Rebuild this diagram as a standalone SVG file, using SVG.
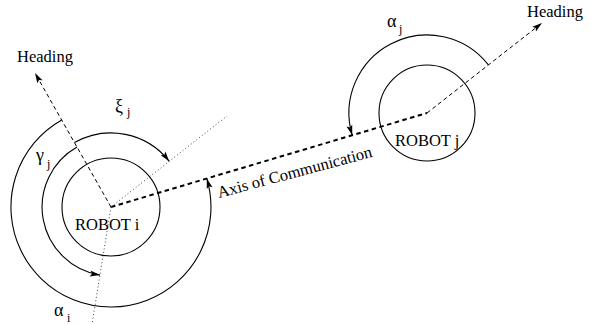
<svg xmlns="http://www.w3.org/2000/svg" width="591" height="324" viewBox="0 0 591 324">
<style>
  .lbl { font-family: "Liberation Serif", "Times New Roman", serif; font-size: 16.5px; fill: #000; }
  .grk { font-family: "Liberation Serif", "Times New Roman", serif; font-size: 18px; fill: #000; }
  .sub { font-family: "Liberation Serif", "Times New Roman", serif; font-size: 12px; fill: #000; }
  .circ { fill: none; stroke: #000; stroke-width: 1.1; }
  .arc { fill: none; stroke: #000; stroke-width: 1.1; }
  .dash { fill: none; stroke: #000; stroke-width: 1; stroke-dasharray: 4 3; }
  .axis { fill: none; stroke: #000; stroke-width: 2; stroke-dasharray: 4.5 3.5; }
  .dot { fill: none; stroke: #444; stroke-width: 1; stroke-dasharray: 1 2.5; }
</style>
<defs>
  <marker id="ah" markerUnits="userSpaceOnUse" markerWidth="12" markerHeight="8" refX="0" refY="0" viewBox="-10 -4 12 8" orient="auto" overflow="visible">
    <path d="M0,0 L-10,-3 L-8,0 L-10,3 z" fill="#000"/>
  </marker>
</defs>

<g id="connectors">
  <line class="dash" x1="111" y1="207" x2="35" y2="73" marker-end="url(#ah)"/>
  <line class="dash" x1="427" y1="113" x2="542" y2="23" marker-end="url(#ah)"/>
  <line class="axis" x1="111" y1="207" x2="427" y2="113"/>
  <line class="dot" x1="111" y1="207" x2="227" y2="116"/>
  <line class="dot" x1="111" y1="207" x2="92" y2="324"/>
  <path class="arc" d="M61.7,120 A100,100 0 1 0 206.8,178.5" marker-end="url(#ah)"/>
  <path class="arc" d="M74.5,142.6 A74,74 0 0 1 169.2,161.3" marker-end="url(#ah)"/>
  <path class="arc" d="M77,147 A69,69 0 0 0 100,275.1" marker-end="url(#ah)"/>
  <path class="arc" d="M488.4,64.9 A78,78 0 0 0 352.2,135.2" marker-end="url(#ah)"/>
</g>

<g id="robot-i">
  <circle class="circ" cx="111" cy="207" r="49"/>
  <text class="lbl" x="75" y="230">ROBOT i</text>
</g>
<g id="robot-j">
  <circle class="circ" cx="427" cy="113" r="48"/>
  <text class="lbl" x="395" y="146">ROBOT j</text>
</g>

<g id="labels">
  <text class="lbl" x="17" y="62">Heading</text>
  <text class="lbl" x="527" y="17">Heading</text>
  <text class="lbl" transform="translate(219,198) rotate(-15)">Axis of Communication</text>
  <text class="grk" x="54" y="316">α</text><text class="sub" x="67" y="322">i</text>
  <text class="grk" x="115" y="112">ξ</text><text class="sub" x="127" y="116">j</text>
  <text class="grk" x="36" y="161">γ</text><text class="sub" x="47" y="168">j</text>
  <text class="grk" x="387" y="27">α</text><text class="sub" x="399" y="33">j</text>
</g>
</svg>
